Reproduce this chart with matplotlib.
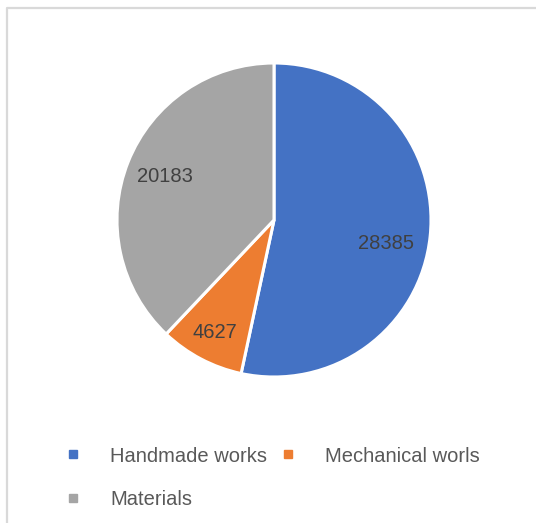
import numpy as np
import matplotlib.pyplot as plt
from matplotlib.lines import Line2D

# Works by type
categories = ["Handmade works", "Mechanical worls", "Materials"]
values = [28385, 4627, 20183]
colors = ["#4472C4", "#ED7D31", "#A5A5A5"]

# label placement inside each slice: radial distance and angle nudge (deg)
label_dist = [0.73, 0.81, 0.75]
label_shift = [-6.0, 0.0, 0.0]

plt.rcParams['font.family'] = ['Liberation Sans', 'DejaVu Sans']

fig = plt.figure(figsize=(5.36, 5.23), dpi=100)
W, H = 536, 523

# light frame on the top and left sides
frame = fig.add_axes([0, 0, 1, 1])
frame.set_xlim(0, W)
frame.set_ylim(H, 0)
frame.axis("off")
frame.plot([7, 7, W], [H, 7.5, 7.5], color="#D9D9D9", lw=1.6)

# pie: center (274, 220) px, radius 157 px
cx, cy, r = 274, 220, 157
ax = fig.add_axes([(cx - r) / W, (H - cy - r) / H, 2 * r / W, 2 * r / H])

wedges, _ = ax.pie(values, colors=colors, startangle=90, counterclock=False,
                   radius=1.0, wedgeprops=dict(edgecolor="white", linewidth=2.2))
ax.set_xlim(-1, 1)
ax.set_ylim(-1, 1)
ax.set_aspect("auto")

for w, v, d, s in zip(wedges, values, label_dist, label_shift):
    ang = np.deg2rad((w.theta1 + w.theta2) / 2 + s)
    ax.text(d * np.cos(ang), d * np.sin(ang), str(v), ha="center", va="center",
            color="#404040", fontsize=14.5)

# legend fills row by row: Handmade, Mechanical / Materials
order = [0, 2, 1]
handles = [Line2D([], [], marker="s", linestyle="none", markersize=5.2,
                  markerfacecolor=colors[i], markeredgecolor=colors[i]) for i in order]
fig.legend(handles, [categories[i] for i in order], ncol=2, loc="upper left",
           bbox_to_anchor=(63 / W, 1 - 446.5 / H), frameon=False, borderpad=0,
           borderaxespad=0, fontsize=14.5, handlelength=1.0, handletextpad=1.34,
           columnspacing=0.55, labelspacing=1.2, labelcolor="#595959")

fig.savefig("out.png", dpi=100)
